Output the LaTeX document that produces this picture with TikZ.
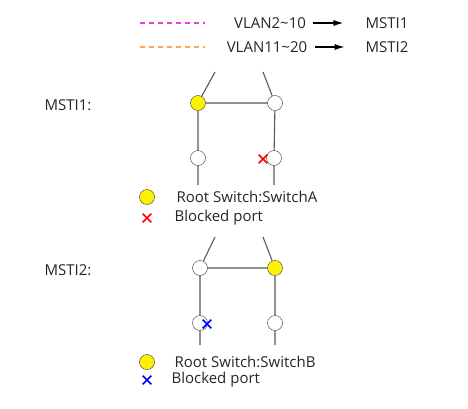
\documentclass[tikz,border=0pt]{standalone}
\usepackage{fontspec}
\setmainfont{Open Sans}
\usetikzlibrary{arrows.meta,shapes.misc}
\definecolor{vlanA}{RGB}{235,60,235}
\definecolor{vlanB}{RGB}{255,165,90}

\begin{document}
\begin{tikzpicture}[x=1pt,y=-1pt,
      font=\fontsize{15}{17}\selectfont,
      text=black!85,
      port/.style={
        draw=black!80,
        circle,
        fill=white,
        inner sep=0pt,
        minimum size=15pt
      },
      racine/.style={
        port,
        fill=yellow
      },
      lien/.style={
        draw=black!65,
        line width=1.1pt
      },
      bloque/.style={
        draw,
        cross out,
        inner sep=0pt,
        minimum size=7pt,
        line width=1.6pt
      },
      tiret/.style={
        dash pattern=on 5pt off 4pt,
        line width=1.4pt
      },
      arr/.style={
        -{Latex[length=10pt,width=6pt]},
        line width=1.2pt
      }
    ]
    \useasboundingbox (0,0) rectangle (468,408);

    % legende des VLAN
    \coordinate (m1) at (140,23);
    \coordinate (m2) at (205,23);
    \coordinate (o1) at (140,47);
    \coordinate (o2) at (205,47);
    \draw[tiret, vlanA] (m1) -- (m2);
    \draw[tiret, vlanB] (o1) -- (o2);
    \node (vlan1) at (270,23) {VLAN2\char`\~10};
    \node (vlan2) at (267,47) {VLAN11\char`\~20};
    \node (inst1) at (387,23) {MSTI1};
    \node (inst2) at (387,47) {MSTI2};
    \draw[arr] (vlan1.east) ++(4,0) coordinate (f1) -- ++(30,0) coordinate (g1);
    \draw[arr] (vlan2.east) ++(4,0) coordinate (f2) -- ++(30,0) coordinate (g2);

    % MSTI1
    \node (titre1) at (68,105) {MSTI1:};
    \coordinate (h1) at (215,72);
    \coordinate (h2) at (263,72);
    \coordinate (b1) at (198,185);
    \coordinate (b2) at (274,185);
    \node[racine] (a1) at (198,103) {};
    \node[port] (a2) at (275,103) {};
    \node[port] (a3) at (198,158) {};
    \node[port] (a4) at (274,158) {};
    \path[lien]
       (h1) -- (a1) (h2) -- (a2)
       (a1) -- (a2)
       (a1) -- (a3) (a2) -- (a4)
       (a3) -- (b1) (a4) -- (b2) ;
    \node[bloque, red] (x1) at (263,159) {};
    \node[racine] (lr1) at (147,197) {};
    \node[anchor=west] (lt1) at (173,197) {Root Switch:SwitchA};
    \node[bloque, red] (lx1) at (147,218) {};
    \node[anchor=west] (lb1) at (171,218) {Blocked port};

    % MSTI2
    \node (titre2) at (68,270) {MSTI2:};
    \coordinate (h3) at (215,237);
    \coordinate (h4) at (263,237);
    \coordinate (b3) at (200,345);
    \coordinate (b4) at (275,345);
    \node[port] (c1) at (200,268) {};
    \node[racine] (c2) at (275,268) {};
    \node[port] (c3) at (200,323) {};
    \node[port] (c4) at (275,323) {};
    \path[lien]
       (h3) -- (c1) (h4) -- (c2)
       (c1) -- (c2)
       (c1) -- (c3) (c2) -- (c4)
       (c3) -- (b3) (c4) -- (b4) ;
    \node[bloque, blue] (x2) at (207,324) {};
    \node[racine] (lr2) at (147,362) {};
    \node[anchor=west] (lt2) at (171,362) {Root Switch:SwitchB};
    \node[bloque, blue] (lx2) at (147,380) {};
    \node[anchor=west] (lb2) at (168,380) {Blocked port};
  \end{tikzpicture}
\end{document}
